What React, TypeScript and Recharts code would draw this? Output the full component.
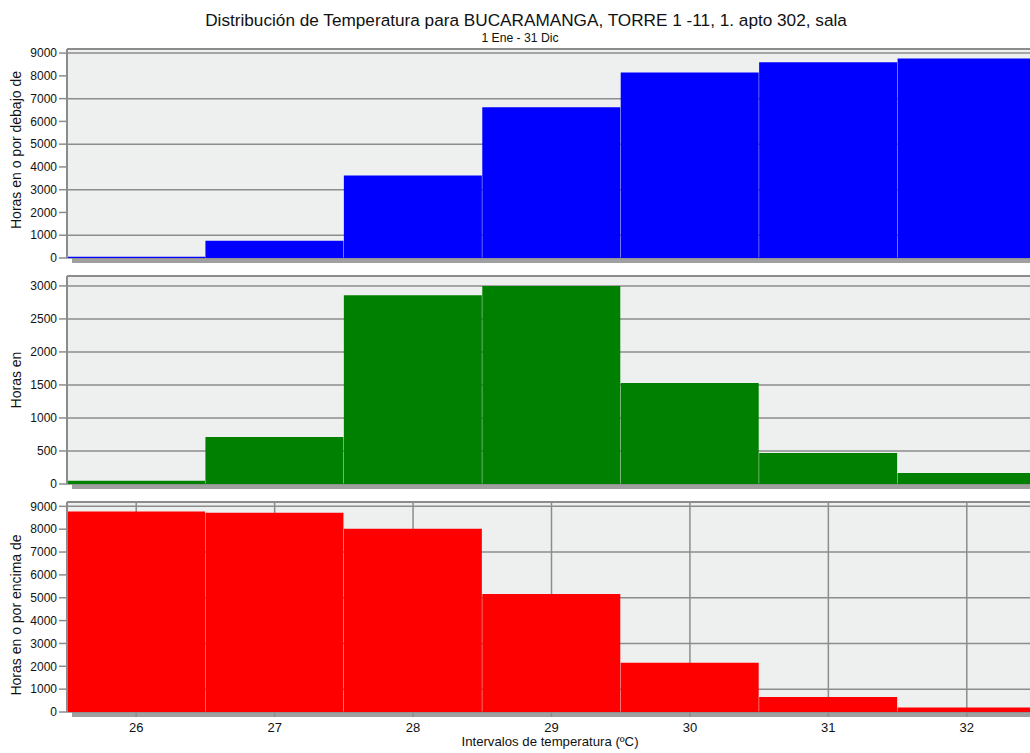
import React from "react";
import { BarChart, Bar, XAxis, YAxis, CartesianGrid, ReferenceLine } from "recharts";

// temperature bins (ºC) and hours per bin
const TEMPS = ["26", "27", "28", "29", "30", "31", "32"];
const HOURS_BELOW = [50, 760, 3620, 6620, 8150, 8600, 8760];
const HOURS_IN = [50, 710, 2860, 3000, 1530, 470, 165];
const HOURS_ABOVE = [8770, 8720, 8020, 5160, 2160, 660, 200];

const TICKS_BIG = [0, 1000, 2000, 3000, 4000, 5000, 6000, 7000, 8000, 9000];
const TICKS_SMALL = [0, 500, 1000, 1500, 2000, 2500, 3000];

const TITLE = "Distribución de Temperatura para BUCARAMANGA, TORRE 1 -11, 1. apto 302, sala";
const SUBTITLE = "1 Ene - 31 Dic";
const X_LABEL = "Intervalos de temperatura (ºC)";

const FONT = "'Liberation Sans', Arial, sans-serif";
const GRID = "#8c8c8c";
const PLOT_BG = "#eef0ef";
const CHART_W = 1040;
const Y_AXIS_W = 67;

type PanelProps = {
  values: number[];
  color: string;
  ticks: number[];
  max: number;
  top: number;
  plotHeight: number;
  showX?: boolean;
};

const Panel = ({ values, color, ticks, max, top, plotHeight, showX }: PanelProps) => {
  const data = TEMPS.map((t, i) => ({ t, v: values[i] }));
  const xH = showX ? 30 : 0;
  const height = 9 + plotHeight + (showX ? xH : 8);
  return (
    <>
      {/* drop shadow under the plot frame */}
      <div
        style={{
          position: "absolute",
          left: Y_AXIS_W + 5,
          top: top + 9 + 5,
          width: CHART_W,
          height: plotHeight,
          background: "#a0a0a0",
        }}
      />
      <div style={{ position: "absolute", left: 0, top }}>
        <BarChart
          width={CHART_W}
          height={height}
          data={data}
          barCategoryGap={0}
          margin={{ top: 9, right: 4, left: 0, bottom: showX ? 0 : 8 }}
        >
          <CartesianGrid fill={PLOT_BG} stroke={GRID} strokeWidth={1.5} />
          <XAxis
            dataKey="t"
            type="category"
            height={xH}
            tick={showX ? { fill: "#111", fontSize: 13, fontFamily: FONT } : false}
            tickLine={showX ? { stroke: GRID, strokeWidth: 1.5 } : false}
            tickSize={5}
            tickMargin={6}
            axisLine={false}
          />
          <YAxis
            width={Y_AXIS_W}
            domain={[0, max]}
            ticks={ticks}
            allowDataOverflow
            tick={{ fill: "#111", fontSize: 12, fontFamily: FONT }}
            tickLine={{ stroke: GRID, strokeWidth: 1.5 }}
            axisLine={{ stroke: GRID, strokeWidth: 2 }}
            tickSize={8}
            tickMargin={2}
          />
          <ReferenceLine y={max} stroke={GRID} strokeWidth={2} />
          <Bar dataKey="v" fill={color} isAnimationActive={false} />
        </BarChart>
      </div>
    </>
  );
};

export default function App() {
  return (
    <div
      style={{
        position: "absolute",
        left: 0,
        top: 0,
        width: 1030,
        height: 753,
        overflow: "hidden",
        background: "#fff",
        fontFamily: FONT,
      }}
    >
      <Panel values={HOURS_BELOW} color="#0000ff" ticks={TICKS_BIG} max={9180} top={40} plotHeight={209} />
      <Panel values={HOURS_IN} color="#008000" ticks={TICKS_SMALL} max={3150} top={267} plotHeight={208} />
      <Panel values={HOURS_ABOVE} color="#ff0000" ticks={TICKS_BIG} max={9190} top={493} plotHeight={210} showX />
      <svg
        width={1030}
        height={753}
        style={{ position: "absolute", left: 0, top: 0, pointerEvents: "none" }}
        fontFamily={FONT}
      >
        <text x={526} y={26} textAnchor="middle" fontSize={17.2} fill="#111">
          {TITLE}
        </text>
        <text x={520} y={41.5} textAnchor="middle" fontSize={12.2} fill="#111">
          {SUBTITLE}
        </text>
        <text x={21} y={150} textAnchor="middle" fontSize={14} fill="#111" transform="rotate(-90 21 150)">
          Horas en o por debajo de
        </text>
        <text x={21} y={380} textAnchor="middle" fontSize={14} fill="#111" transform="rotate(-90 21 380)">
          Horas en
        </text>
        <text x={21} y={615} textAnchor="middle" fontSize={14} fill="#111" transform="rotate(-90 21 615)">
          Horas en o por encima de
        </text>
        <text x={550} y={746} textAnchor="middle" fontSize={13.2} fill="#111">
          {X_LABEL}
        </text>
      </svg>
    </div>
  );
}
